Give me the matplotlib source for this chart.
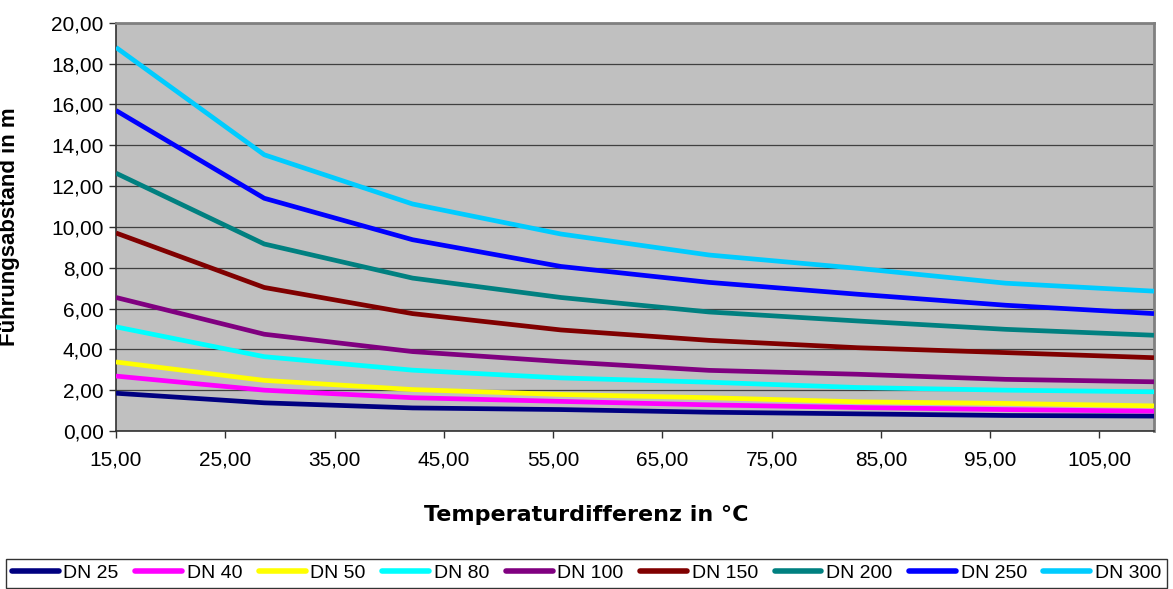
import matplotlib
matplotlib.use("Agg")
import matplotlib.pyplot as plt
from matplotlib.ticker import FuncFormatter, MultipleLocator

plt.rcParams['font.family'] = ['Liberation Sans', 'DejaVu Sans']

# Temperature differences (°C)
temp_diff = [15.0, 28.57, 42.14, 55.71, 69.29, 82.86, 96.43, 110.0]

series_names = ["DN 25", "DN 40", "DN 50", "DN 80", "DN 100",
                "DN 150", "DN 200", "DN 250", "DN 300"]

dn25 = [1.85, 1.38, 1.13, 1.05, 0.92, 0.84, 0.76, 0.73]
dn40 = [2.69, 2.00, 1.63, 1.45, 1.28, 1.15, 1.05, 0.97]
dn50 = [3.38, 2.48, 2.03, 1.79, 1.63, 1.43, 1.35, 1.23]
dn80 = [5.10, 3.64, 2.98, 2.60, 2.39, 2.13, 2.00, 1.92]
dn100 = [6.54, 4.74, 3.89, 3.40, 2.97, 2.78, 2.53, 2.41]
dn150 = [9.70, 7.03, 5.75, 4.95, 4.44, 4.08, 3.84, 3.59]
dn200 = [12.63, 9.16, 7.49, 6.54, 5.83, 5.39, 4.98, 4.69]
dn250 = [15.70, 11.40, 9.37, 8.06, 7.28, 6.70, 6.16, 5.75]
dn300 = [18.79, 13.53, 11.12, 9.65, 8.62, 7.97, 7.24, 6.85]

series_values = [dn25, dn40, dn50, dn80, dn100, dn150, dn200, dn250, dn300]
series_colors = ["#000080", "#FF00FF", "#FFFF00", "#00FFFF", "#800080",
                 "#800000", "#008080", "#0000FF", "#00CCFF"]

x_ticks = [15, 25, 35, 45, 55, 65, 75, 85, 95, 105]

W, H = 1173, 589
fig = plt.figure(figsize=(W / 100, H / 100), dpi=100)
left, right, top, bottom = 116, 1154, 22.7, 431
ax = fig.add_axes([left / W, 1 - bottom / H, (right - left) / W, (bottom - top) / H])
ax.set_facecolor("#C0C0C0")

for name, vals, col in zip(series_names, series_values, series_colors):
    ax.plot(temp_diff, vals, color=col, lw=3.4, label=name, solid_capstyle='butt',
            solid_joinstyle='round', zorder=3)

ax.set_xlim(15, 110)
ax.set_ylim(0, 20)
ax.yaxis.set_major_locator(MultipleLocator(2))
ax.set_xticks(x_ticks)
fmt = FuncFormatter(lambda v, p: f"{v:.2f}".replace(".", ","))
ax.xaxis.set_major_formatter(fmt)
ax.yaxis.set_major_formatter(fmt)
ax.grid(axis='y', color='#404040', lw=0.9, zorder=1)
ax.set_axisbelow(True)

for s in ['left', 'bottom']:
    ax.spines[s].set_color('#303030')
    ax.spines[s].set_linewidth(1.2)
for s in ['top', 'right']:
    ax.spines[s].set_color('#808080')
    ax.spines[s].set_linewidth(2)

ax.tick_params(axis='both', direction='out', length=5, width=1, color='#303030',
               labelsize=15)
ax.tick_params(axis='x', pad=9)
ax.tick_params(axis='y', pad=4)

ax.set_ylabel("Führungsabstand in m", fontsize=16, fontweight='bold')
ax.yaxis.set_label_coords((20 - left) / (right - left), 0.5)
ax.set_xlabel("Temperaturdifferenz in °C", fontsize=16, fontweight='bold',
              family=['DejaVu Sans'])
ax.xaxis.set_label_coords((586 - left) / (right - left), -(505 - bottom) / (bottom - top))

leg = fig.legend(loc='lower left', bbox_to_anchor=(6 / W, 1 / H, 1161 / W, 33 / H),
                 mode='expand', ncol=9, fontsize=14, frameon=True, fancybox=False,
                 handlelength=2.4, handletextpad=0.25, borderaxespad=0, borderpad=0.3,
                 columnspacing=0.3)
leg.get_frame().set_edgecolor('black')
leg.get_frame().set_linewidth(1)
for line in leg.get_lines():
    line.set_linewidth(4)
    line.set_solid_capstyle('round')

fig.savefig("out.png", dpi=100)
